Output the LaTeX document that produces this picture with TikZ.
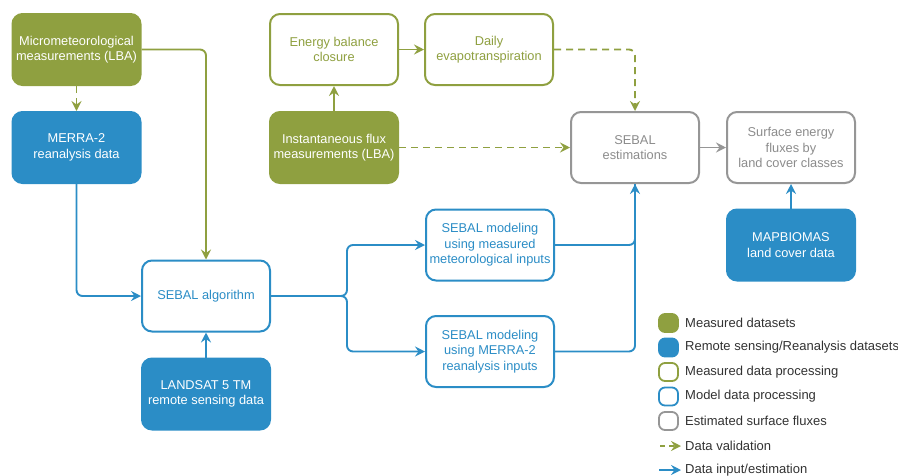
\documentclass[tikz,border=0pt]{standalone}
\usepackage{fontspec}
\setmainfont{Liberation Sans}
\usetikzlibrary{arrows.meta}
\definecolor{olv}{RGB}{143,160,64}
\definecolor{blu}{RGB}{43,141,198}
\definecolor{gry}{RGB}{150,150,150}
\definecolor{gtxt}{RGB}{140,140,140}
\definecolor{ltxt}{RGB}{50,50,50}
\tikzset{
  box/.style={rounded corners=10pt, minimum width=128pt, minimum height=71pt, align=center, line width=2pt, inner sep=1pt, font=\fontsize{12.8}{15.5}\selectfont},
  ofill/.style={box, fill=olv, draw=olv, text=white},
  bfill/.style={box, fill=blu, draw=blu, text=white},
  obox/.style={box, fill=white, draw=olv, text=olv},
  bbox/.style={box, fill=white, draw=blu, text=blu},
  gbox/.style={box, fill=white, draw=gry, text=gtxt},
  conn/.style={line width=1.9pt, rounded corners=6pt, -{Stealth[length=10pt,width=10pt,inset=3.5pt]}},
  oarr/.style={conn, draw=olv},
  oarrd/.style={conn, draw=olv, dash pattern=on 7pt off 5pt},
  barr/.style={conn, draw=blu},
  bline/.style={line width=1.9pt, rounded corners=6pt, draw=blu},
  garr/.style={conn, draw=gry},
  sw/.style={rounded corners=6pt, minimum width=19pt, minimum height=18pt, line width=1.8pt, inner sep=0pt},
  lt/.style={anchor=west, text=ltxt, font=\fontsize{13}{15}\selectfont, inner sep=0pt},
}
\begin{document}
\begin{tikzpicture}[x=1pt,y=-1pt]
\useasboundingbox (0,0) rectangle (898,475);
% nodes
\node[ofill] (micro) at (76.5,49.5) {Micrometeorological\\measurements (LBA)};
\node[bfill] (merra) at (76.5,147.5) {MERRA-2\\reanalysis data};
\node[obox] (ebc) at (334,49.5) {Energy balance\\closure};
\node[obox] (daily) at (489,49.5) {Daily\\evapotranspiration};
\node[ofill] (inst) at (334,147.5) {Instantaneous flux\\measurements (LBA)};
\node[gbox] (est) at (635,147.5) {SEBAL\\estimations};
\node[gbox] (surf) at (791,147.5) {Surface energy\\fluxes by\\land cover classes};
\node[bfill] (mapb) at (791,245) {MAPBIOMAS\\land cover data};
\node[bbox] (alg) at (206,296) {SEBAL algorithm};
\node[bfill] (land) at (206,394) {LANDSAT 5 TM\\remote sensing data};
\node[bbox] (mod1) at (490,245) {SEBAL modeling\\using measured\\meteorological inputs};
\node[bbox] (mod2) at (490,351.5) {SEBAL modeling\\using MERRA-2\\reanalysis inputs};
\coordinate (split) at (347,296);
% connectors
\draw[oarrd] (micro.south) -- (merra.north);
\draw[oarr] (micro.east) -| (alg.north);
\draw[barr] (merra.south) |- (alg.west);
\draw[barr] (land.north) -- (alg.south);
\draw[barr] (alg.east) -- (split) |- (mod1.west);
\draw[barr] (alg.east) -- (split) |- (mod2.west);
\draw[bline] (mod1.east) -| (est.south);
\draw[barr] (mod2.east) -| (est.south);
\draw[oarr] (inst.north) -- (ebc.south);
\draw[oarr] (ebc.east) -- (daily.west);
\draw[oarrd] (daily.east) -| (est.north);
\draw[oarrd] (inst.east) -- (est.west);
\draw[garr] (est.east) -- (surf.west);
\draw[barr] (mapb.north) -- (surf.south);
% legend
\node[sw, fill=olv, draw=olv] (s1) at (668.5,323) {};
\node[sw, fill=blu, draw=blu] (s2) at (668.5,347.5) {};
\node[sw, fill=white, draw=olv] (s3) at (668.5,372) {};
\node[sw, fill=white, draw=blu] (s4) at (668.5,396.5) {};
\node[sw, fill=white, draw=gry] (s5) at (668.5,421) {};
\coordinate (a1s) at (660,446);
\coordinate (a1e) at (681,446);
\coordinate (a2s) at (659,470);
\coordinate (a2e) at (681,470);
\draw[oarrd, dash pattern=on 5pt off 4pt] (a1s) -- (a1e);
\draw[barr] (a2s) -- (a2e);
\node[lt] (l1) at (685,323) {Measured datasets};
\node[lt] (l2) at (685,347.5) {Remote sensing/Reanalysis datasets};
\node[lt] (l3) at (685,372) {Measured data processing};
\node[lt] (l4) at (685,396.5) {Model data processing};
\node[lt] (l5) at (685,421) {Estimated surface fluxes};
\node[lt] (l6) at (685,446) {Data validation};
\node[lt] (l7) at (685,470) {Data input/estimation};
\end{tikzpicture}
\end{document}
